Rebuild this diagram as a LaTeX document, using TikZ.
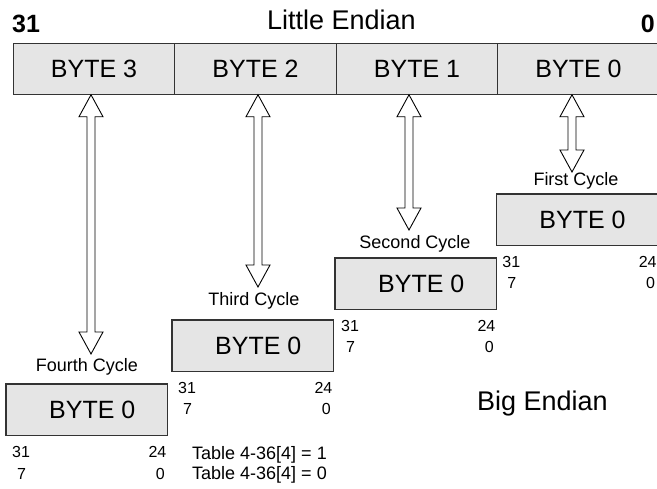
\documentclass[tikz,border=0pt]{standalone}
\usepackage{fontspec}
\setmainfont{Liberation Sans}
\usepackage{tikz}
\usetikzlibrary{positioning, calc}
\tikzset{
      byte box/.style={
		fill=gray!20,
		draw=black!80,
		line width=1.3pt,
		minimum width=161.5pt,
		minimum height=51.5pt,
		inner sep=0pt,
		outer sep=0pt,
		font=\fontsize{25}{30}\selectfont,
	  },
  		cycle box/.style={
    	byte box,
    	execute at begin node={\hspace*{11pt}},
      },
  		cycle label/.style={
    	anchor=base,
    	inner sep=0pt,
    	font=\fontsize{18}{21}\selectfont,
      },
  		bit label/.style={
    	inner sep=0pt,
    	font=\fontsize{16}{19}\selectfont,
      },
  		title/.style={
    	inner sep=0pt,
    	font=\fontsize{27}{32}\selectfont,
      },
  		byte arrow/.style={
    	draw=black, fill=white, line width=0.9pt,
    	to path={-- ++(-12,22) -- ++(8,0) -- ($(\tikztotarget)+(-4,-22)$) -- ++(-8,0)
    	  -- (\tikztotarget) -- ++(12,-22) -- ++(-8,0) -- ($(\tikztostart)+(4,22)$)
    	  -- ++(8,0) -- cycle},
      }
  	}
\begin{document}
\begin{tikzpicture}[x=1pt, y=-1pt, node distance=0pt]
    \useasboundingbox (0,0) rectangle (657,489);
    % register, little endian
    \node [byte box] (b3) at (94,69) {BYTE 3};
    \node [byte box, right=of b3] (b2) {BYTE 2};
    \node [byte box, right=of b2] (b1) {BYTE 1};
    \node [byte box, right=of b1] (b0) {BYTE 0};
    \node [title, anchor=base] (little) at (341.5,30) {Little Endian};
    \node [title, anchor=base west, font=\fontsize{25}{30}\selectfont\bfseries] (msb) at (12,33) {31};
    \node [title, anchor=base east, font=\fontsize{25}{30}\selectfont\bfseries] (lsb) at (655,33) {0};
    % cycles, big endian
    \node [cycle box] (c4) at (86.75,409.75) {BYTE 0};
    \node [cycle box] (c3) at (252.75,345.75) {BYTE 0};
    \node [cycle box] (c2) at (415.75,283.75) {BYTE 0};
    \node [cycle box] (c1) at (577,219.75) {BYTE 0};
    \node [cycle label] (l4) at (87,372) {Fourth Cycle};
    \node [cycle label] (l3) at (254,306) {Third Cycle};
    \node [cycle label] (l2) at (415,249) {Second Cycle};
    \node [cycle label] (l1) at (576,186) {First Cycle};
    \node [bit label, anchor=base west] (c4h) at ($(c4.south west)+(6,22)$) {31};
    \node [bit label, anchor=base west] (c4l) at ($(c4.south west)+(11,43.5)$) {7};
    \node [bit label, anchor=base east] (c4m) at ($(c4.south east)+(-1,22)$) {24};
    \node [bit label, anchor=base east] (c4z) at ($(c4.south east)+(-2.5,43.5)$) {0};
    \node [bit label, anchor=base west] (c3h) at ($(c3.south west)+(6,22)$) {31};
    \node [bit label, anchor=base west] (c3l) at ($(c3.south west)+(11,43.5)$) {7};
    \node [bit label, anchor=base east] (c3m) at ($(c3.south east)+(-1,22)$) {24};
    \node [bit label, anchor=base east] (c3z) at ($(c3.south east)+(-2.5,43.5)$) {0};
    \node [bit label, anchor=base west] (c2h) at ($(c2.south west)+(6,22)$) {31};
    \node [bit label, anchor=base west] (c2l) at ($(c2.south west)+(11,43.5)$) {7};
    \node [bit label, anchor=base east] (c2m) at ($(c2.south east)+(-1,22)$) {24};
    \node [bit label, anchor=base east] (c2z) at ($(c2.south east)+(-2.5,43.5)$) {0};
    \node [bit label, anchor=base west] (c1h) at ($(c1.south west)+(6,22)$) {31};
    \node [bit label, anchor=base west] (c1l) at ($(c1.south west)+(11,43.5)$) {7};
    \node [bit label, anchor=base east] (c1m) at ($(c1.south east)+(-1,22)$) {24};
    \node [bit label, anchor=base east] (c1z) at ($(c1.south east)+(-2.5,43.5)$) {0};
    \node [title, anchor=base west] (big) at (477,410.7) {Big Endian};
    \node [bit label, anchor=base west, font=\fontsize{18}{21}\selectfont] (t1) at (192,460) {Table 4-36[4] = 1};
    \node [bit label, anchor=base west, font=\fontsize{18}{21}\selectfont] (t0) at (192,480) {Table 4-36[4] = 0};
    % byte lanes
    \coordinate (e4) at (91,354);
    \coordinate (e3) at (258,287);
    \coordinate (e2) at (409,230);
    \coordinate (e1) at (572,172);
    \draw [byte arrow] (b3.south -| e4) to (e4);
    \draw [byte arrow] (b2.south -| e3) to (e3);
    \draw [byte arrow] (b1.south -| e2) to (e2);
    \draw [byte arrow] (b0.south -| e1) to (e1);
  \end{tikzpicture}
\end{document}
